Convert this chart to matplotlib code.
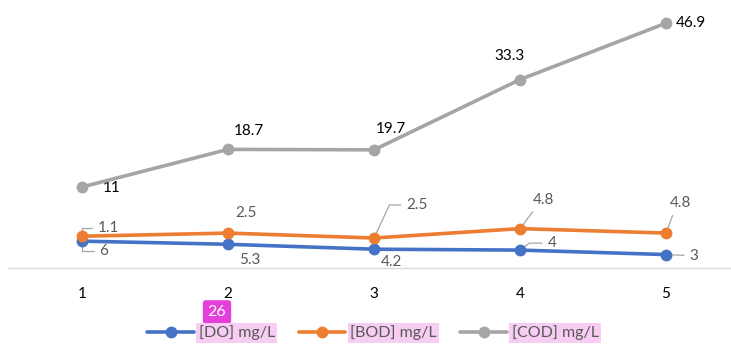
import matplotlib
matplotlib.use("Agg")
import matplotlib.pyplot as plt
import numpy as np

plt.rcParams['font.family'] = ['Lato', 'DejaVu Sans']

# sampling stations
stations = [1, 2, 3, 4, 5]
do_vals = [6, 5.3, 4.2, 4, 3]
bod_vals = [1.1, 2.5, 2.5, 4.8, 4.8]
cod_vals = [11, 18.7, 19.7, 33.3, 46.9]
series_names = ["[DO] mg/L", "[BOD] mg/L", "[COD] mg/L"]
badge_text = "26"

colors = ["#4472C4", "#ED7D31", "#A5A5A5"]
label_colors = ["#595959", "#595959", "#000000"]

# label offsets (pixels from the point) and leader line setup per series
offsets = [
    [(22, -10), (22, -16), (17, -13), (32, 7), (28, -1)],
    [(26, 8), (18, 20), (43, 33), (23, 29), (14, 30)],
    [(30, -1), (21, 18), (17, 21), (-11, 24), (25, 0)],
]
# leader: None, or (relpos, connectionstyle)
leaders = [
    [((0, 0.5), "angle,angleA=0,angleB=90,rad=0"), None, None,
     ((0, 0.5), "angle,angleA=0,angleB=37,rad=0"), ((0, 0.5), "arc3")],
    [((0, 0.5), "angle,angleA=0,angleB=90,rad=0"), None,
     ((0, 0.5), "angle,angleA=0,angleB=65,rad=0"),
     ((0.2, 0), "arc3"), ((0.25, 0), "arc3")],
    [None, None, None, None, None],
]

W, H = 731, 345
fig = plt.figure(figsize=(W / 100, H / 100), dpi=100)
ax = fig.add_axes([8 / W, (H - 268) / H, (W - 8) / W, 268 / H])

# stacked line chart: each series sits on top of the previous ones
values = [np.array(do_vals), np.array(bod_vals), np.array(cod_vals)]
cum = np.cumsum(values, axis=0)

handles = []
for i in range(3):
    h, = ax.plot(stations, cum[i], color=colors[i], lw=2.6, marker='o',
                 markersize=7.5, solid_capstyle='round', clip_on=False,
                 zorder=3 + i)
    handles.append(h)
    for j, x in enumerate(stations):
        dx, dy = offsets[i][j]
        kw = {}
        if leaders[i][j] is not None:
            relpos, conn = leaders[i][j]
            kw['arrowprops'] = dict(arrowstyle='-', color='#A6A6A6', lw=0.9,
                                    relpos=relpos, connectionstyle=conn,
                                    shrinkA=2, shrinkB=1)
        ax.annotate(f"{values[i][j]:g}", (x, cum[i][j]), xytext=(dx, dy),
                    textcoords='offset pixels', ha='center', va='center',
                    fontsize=11, color=label_colors[i], zorder=2, **kw)

ax.set_xlim(1 - 74 / 146, 5 + 65 / 146)
ax.set_ylim(0, 268 / 4.476)
ax.set_xticks(stations)
ax.set_xticklabels([str(s) for s in stations])
ax.tick_params(axis='x', length=0, pad=14, labelsize=11, labelcolor='#000000')
ax.set_yticks([])
for s in ['top', 'left', 'right']:
    ax.spines[s].set_visible(False)
ax.spines['bottom'].set_color('#D9D9D9')
ax.spines['bottom'].set_linewidth(1.0)
ax.patch.set_visible(False)

leg = fig.legend(handles, series_names, loc='center', ncol=3,
                 bbox_to_anchor=(373 / W, 1 - 333 / H), frameon=False,
                 fontsize=11.5, handlelength=2.9, handletextpad=0.3,
                 columnspacing=1.5, labelcolor='#595959')
for t in leg.get_texts():
    t.set_bbox(dict(facecolor='#F7CDF3', edgecolor='none', pad=1.5))

fig.text(217 / W, 1 - 312 / H, badge_text, ha='center', va='center',
         fontsize=11.5, color='white',
         bbox=dict(boxstyle='round,pad=0.3,rounding_size=0.2',
                   facecolor='#E43FDA', edgecolor='none'))

fig.savefig("out.png", dpi=100)
